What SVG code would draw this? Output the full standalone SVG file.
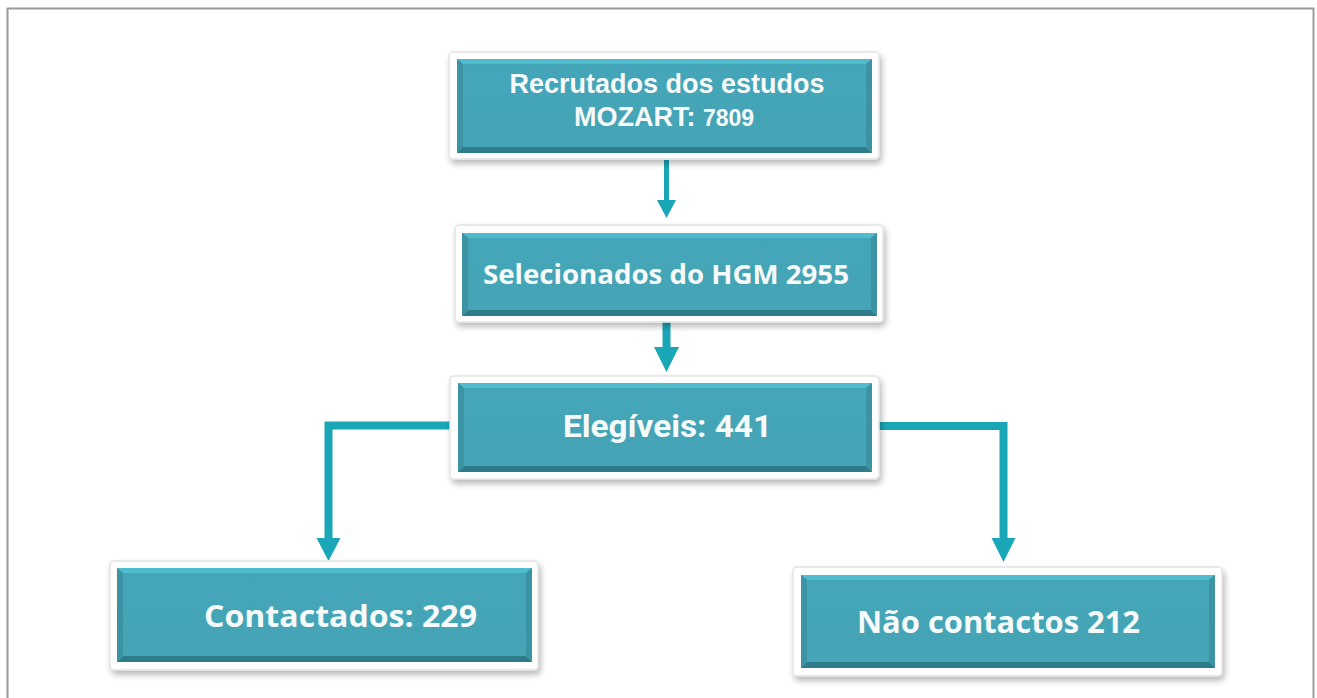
<svg xmlns="http://www.w3.org/2000/svg" width="1317" height="698" viewBox="0 0 1317 698">
<defs>
<filter id="sh" x="-5%" y="-10%" width="115%" height="130%">
<feGaussianBlur in="SourceAlpha" stdDeviation="3"/>
<feOffset dx="2" dy="4" result="b"/>
<feComponentTransfer><feFuncA type="linear" slope="0.28"/></feComponentTransfer>
<feMerge><feMergeNode/><feMergeNode in="SourceGraphic"/></feMerge>
</filter>
<linearGradient id="tg" x1="0" y1="0" x2="0" y2="1">
<stop offset="0" stop-color="#43a6b8"/>
<stop offset="1" stop-color="#45a4b5"/>
</linearGradient>
</defs>
<style>
.frame{fill:#fff;stroke:#e2e4e4;stroke-width:1.5}
.face{fill:url(#tg)}
.top{fill:#4fbccd}
.bot{fill:#2e7c89}
.side{fill:#3b93a3}
.lbl{fill:#f7fafa;font-weight:bold;text-anchor:middle}
.arial{font-family:"Liberation Sans",Arial,sans-serif}
.mont{font-family:"Open Sans","DejaVu Sans",sans-serif}
.cond{font-family:"Roboto","Liberation Sans",sans-serif}
.con{fill:none;stroke:#19a6b6}
.head{fill:#19a6b6}
</style>
<rect x="7.5" y="8.5" width="1306" height="700" fill="#fff" stroke="#9a9a9a" stroke-width="2"/>

<g id="connectors">
<line class="con" x1="666.5" y1="160" x2="666.5" y2="201" stroke-width="5"/>
<polygon class="head" points="657,200 676,200 666.5,218"/>
<line class="con" x1="666.5" y1="322" x2="666.5" y2="348" stroke-width="8"/>
<polygon class="head" points="654,347 679,347 666.5,372"/>
<polyline class="con" points="452,425.5 328.5,425.5 328.5,539" stroke-width="8"/>
<polygon class="head" points="316.5,538 340.5,538 328.5,561"/>
<polyline class="con" points="877,426 1003.5,426 1003.5,539" stroke-width="8"/>
<polygon class="head" points="991.5,538 1015.5,538 1003.5,562"/>
</g>

<g id="n1">
<rect class="frame" x="449" y="52" width="430" height="107" rx="4" filter="url(#sh)"/>
<rect class="face" x="457" y="59" width="415" height="94"/>
<polygon class="top" points="457,59 872,59 866,64 463,64"/>
<polygon class="bot" points="457,153 872,153 866,147 463,147"/>
<polygon class="side" points="457,59 463,64 463,147 457,153"/>
<polygon class="side" points="872,59 866,64 866,147 872,153"/>
<text class="lbl arial" x="667" y="93" font-size="27">Recrutados dos estudos</text>
<text class="lbl arial" x="664" y="126" font-size="27">MOZART: <tspan font-size="23">7809</tspan></text>
</g>

<g id="n2">
<rect class="frame" x="455" y="225" width="428" height="97" rx="4" filter="url(#sh)"/>
<rect class="face" x="462" y="233" width="415" height="83"/>
<polygon class="top" points="462,233 877,233 871,238 468,238"/>
<polygon class="bot" points="462,316 877,316 871,310 468,310"/>
<polygon class="side" points="462,233 468,238 468,310 462,316"/>
<polygon class="side" points="877,233 871,238 871,310 877,316"/>
<text class="lbl mont" x="666" y="284" font-size="26" textLength="366" lengthAdjust="spacingAndGlyphs">Selecionados do HGM 2955</text>
</g>

<g id="n3">
<rect class="frame" x="450" y="376" width="429" height="103" rx="4" filter="url(#sh)"/>
<rect class="face" x="458" y="383" width="414" height="89"/>
<polygon class="top" points="458,383 872,383 866,388 464,388"/>
<polygon class="bot" points="458,472 872,472 866,466 464,466"/>
<polygon class="side" points="458,383 464,388 464,466 458,472"/>
<polygon class="side" points="872,383 866,388 866,466 872,472"/>
<text class="lbl cond" x="667.5" y="437" font-size="31" textLength="209" lengthAdjust="spacingAndGlyphs">Elegíveis: 441</text>
</g>

<g id="n4">
<rect class="frame" x="110" y="561" width="428" height="109" rx="4" filter="url(#sh)"/>
<rect class="face" x="117" y="568" width="415" height="94"/>
<polygon class="top" points="117,568 532,568 526,573 123,573"/>
<polygon class="bot" points="117,662 532,662 526,656 123,656"/>
<polygon class="side" points="117,568 123,573 123,656 117,662"/>
<polygon class="side" points="532,568 526,573 526,656 532,662"/>
<text class="lbl mont" x="340.5" y="627" font-size="30" textLength="273" lengthAdjust="spacingAndGlyphs">Contactados: 229</text>
</g>

<g id="n5">
<rect class="frame" x="793" y="567" width="429" height="109" rx="4" filter="url(#sh)"/>
<rect class="face" x="801" y="575" width="414" height="93"/>
<polygon class="top" points="801,575 1215,575 1209,580 807,580"/>
<polygon class="bot" points="801,668 1215,668 1209,662 807,662"/>
<polygon class="side" points="801,575 807,580 807,662 801,668"/>
<polygon class="side" points="1215,575 1209,580 1209,662 1215,668"/>
<text class="lbl mont" x="998.5" y="633" font-size="31" textLength="283" lengthAdjust="spacingAndGlyphs">Não contactos 212</text>
</g>
</svg>
